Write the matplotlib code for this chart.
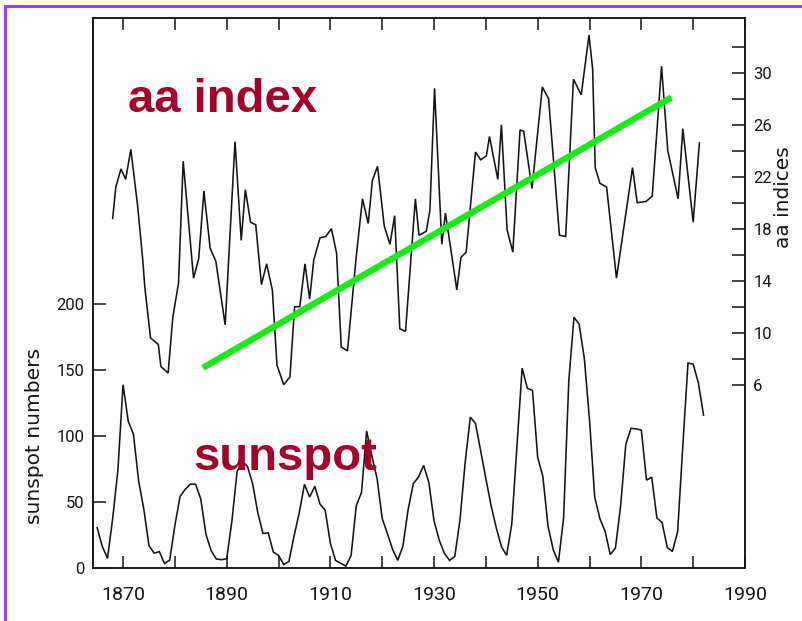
import matplotlib
matplotlib.use("Agg")
import matplotlib.pyplot as plt
from matplotlib.lines import Line2D
from matplotlib.ticker import FixedLocator, NullFormatter

# ---------------- data ----------------
sun_years = list(range(1865, 1983))
sunspots = [30.6, 16.3, 7.3, 37.6, 74.0, 139.0, 111.2, 101.6, 66.2, 44.7,
            17.0, 11.3, 12.4, 3.4, 6.0, 32.3, 54.3, 59.7, 63.7, 63.5,
            52.2, 25.4, 13.1, 6.8, 6.3, 7.1, 35.6, 73.0, 81.0, 77.0,
            64.0, 41.8, 26.2, 26.7, 12.1, 9.5, 2.7, 5.0, 24.4, 42.0,
            63.5, 53.8, 62.0, 48.5, 43.9, 18.6, 5.7, 3.6, 1.4, 9.6,
            47.4, 57.1, 103.9, 85.0, 68.0, 37.6, 26.1, 14.2, 5.8, 16.7,
            44.3, 63.9, 69.0, 77.8, 64.9, 35.7, 21.2, 11.1, 5.7, 8.7,
            36.1, 79.7, 114.4, 109.6, 88.8, 67.8, 47.5, 30.6, 16.3, 9.6,
            33.2, 92.6, 151.6, 136.3, 134.7, 83.9, 69.4, 31.5, 13.9, 4.4,
            38.0, 141.7, 190.2, 184.8, 159.0, 112.3, 53.9, 37.5, 27.9, 10.2,
            15.1, 47.0, 93.8, 105.9, 105.5, 104.5, 66.6, 68.9, 38.0, 34.5,
            15.5, 12.6, 27.5, 92.5, 155.4, 154.6, 140.4, 115.9]

aa_years = [1868.0, 1868.6, 1869.6, 1870.5, 1871.5, 1872.8, 1873.8, 1874.2, 1875.3, 1876.8,
            1877.3, 1878.7, 1879.6, 1880.7, 1881.6, 1883.6, 1884.6, 1885.6, 1886.8, 1887.9,
            1889.7, 1891.6, 1892.8, 1893.6, 1894.6, 1895.6, 1896.7, 1897.7, 1898.8, 1899.7,
            1901.0, 1902.2, 1903.1, 1904.1, 1905.1, 1906.0, 1906.8, 1908.0, 1909.1, 1910.2,
            1911.2, 1912.1, 1913.3, 1915.0, 1916.2, 1917.3, 1918.1, 1919.1, 1920.4, 1921.5,
            1922.4, 1923.4, 1924.5, 1926.4, 1927.1, 1928.5, 1929.2, 1930.1, 1931.5, 1932.2,
            1934.4, 1935.2, 1936.2, 1938.0, 1939.0, 1940.1, 1940.7, 1942.3, 1943.0, 1944.1,
            1945.2, 1946.6, 1947.3, 1948.9, 1950.9, 1952.1, 1954.2, 1955.4, 1956.9, 1958.4,
            1959.9, 1960.6, 1961.1, 1962.0, 1963.3, 1965.2, 1968.3, 1969.2, 1970.9, 1972.1,
            1973.9, 1975.1, 1977.1, 1978.0, 1980.0, 1981.2]
aa_values = [18.8, 21.2, 22.6, 21.8, 24.1, 19.8, 15.6, 13.5, 9.6, 9.1,
             7.4, 6.9, 11.2, 13.8, 23.2, 14.2, 15.7, 20.9, 16.5, 15.5,
             10.6, 24.7, 17.1, 21.0, 18.5, 18.3, 13.7, 15.3, 13.3, 7.5,
             6.0, 6.6, 12.0, 12.0, 15.3, 12.6, 15.6, 17.3, 17.4, 18.0,
             16.1, 8.9, 8.6, 15.9, 20.3, 18.4, 21.7, 22.8, 18.2, 16.8,
             19.0, 10.3, 10.1, 20.3, 17.5, 17.8, 19.4, 28.8, 16.8, 19.2,
             13.3, 15.8, 16.2, 23.9, 23.3, 23.6, 25.1, 21.8, 26.0, 17.9,
             16.2, 25.6, 25.5, 21.1, 28.9, 28.0, 17.5, 17.4, 29.5, 28.3,
             32.9, 30.3, 22.7, 21.5, 21.2, 14.2, 22.7, 20.0, 20.1, 20.5,
             30.5, 24.0, 20.3, 25.7, 18.5, 24.6]

trend_years = [1885.4, 1975.8]
trend_aa = [7.3, 28.1]

x_labels = [1870, 1890, 1910, 1930, 1950, 1970, 1990]
x_minor = [1880, 1900, 1920, 1940, 1960, 1980]
sun_ticks = [0, 50, 100, 150, 200]
aa_major = [6, 10, 14, 18, 22, 26, 30]
aa_minor = [8, 12, 16, 20, 24, 28, 32]

# ---------------- figure ----------------
W, H = 803, 621
fig = plt.figure(figsize=(W / 100, H / 100), dpi=100)
fig.patch.set_facecolor("white")

L, R, T, B = 93, 745, 18, 568
ax = fig.add_axes([L / W, 1 - B / H, (R - L) / W, (B - T) / H])
ax2 = ax.twinx()

ink = "#141414"
ax.plot(sun_years, sunspots, color=ink, lw=1.15, solid_joinstyle="miter")
ax2.plot(aa_years, aa_values, color=ink, lw=1.15, solid_joinstyle="miter")
ax2.plot(trend_years, trend_aa, color="#19EB19", lw=4.6, solid_capstyle="butt", zorder=5)

ax.set_xlim(1864.2, 1990)
ax.set_ylim(0, 417.1)
ax2.set_ylim(-8.1, 34.21)

tick_font = "Roboto"
ax.xaxis.set_major_locator(FixedLocator(x_labels))
ax.xaxis.set_minor_locator(FixedLocator(x_minor))
ax.xaxis.set_minor_formatter(NullFormatter())
ax.set_yticks(sun_ticks)
ax2.yaxis.set_major_locator(FixedLocator(aa_major))
ax2.yaxis.set_minor_locator(FixedLocator(aa_minor))
ax2.yaxis.set_minor_formatter(NullFormatter())

for a in (ax, ax2):
    for s in a.spines.values():
        s.set_linewidth(1.1)
        s.set_color(ink)

ax.tick_params(axis="x", which="both", direction="in", length=8.6, width=1.1,
               top=True, bottom=True, pad=13, labelsize=14, color=ink)
ax.tick_params(axis="y", which="both", direction="in", length=9.5, width=1.1,
               pad=6, labelsize=12, color=ink)
ax2.tick_params(axis="y", which="both", direction="in", length=9.3, width=1.1,
                pad=6, labelsize=12, color=ink)
for lab in ax.get_xticklabels() + ax.get_yticklabels() + ax2.get_yticklabels():
    lab.set_fontfamily(tick_font)
    lab.set_color(ink)

fig.text(35 / W, 1 - 436 / H, "sunspot numbers", rotation=90, ha="center", va="center",
         fontsize=14.5, family="DejaVu Sans", color=ink)
fig.text(784 / W, 1 - 197 / H, "aa indices", rotation=90, ha="center", va="center",
         fontsize=14.5, family="DejaVu Sans", color=ink)

red = "#A3002C"
fig.text(128 / W, 1 - 112 / H, "aa index", ha="left", va="baseline", fontsize=34,
         fontweight="bold", family="Liberation Sans", color=red, zorder=10)
fig.text(193 / W, 1 - 470 / H, "sunspot", ha="left", va="baseline", fontsize=34,
         fontweight="bold", family="Liberation Sans", color=red, zorder=10)

# purple frame (only left and top edges visible in the crop)
purple = "#9B45F2"
fig.add_artist(Line2D([5.5 / W, 5.5 / W], [0, 1 - 5.5 / H], transform=fig.transFigure,
                      color=purple, lw=2.2, solid_capstyle="projecting"))
fig.add_artist(Line2D([5.5 / W, 1], [1 - 5.5 / H, 1 - 5.5 / H], transform=fig.transFigure,
                      color=purple, lw=2.2, solid_capstyle="projecting"))

fig.savefig("out.png", dpi=100)
